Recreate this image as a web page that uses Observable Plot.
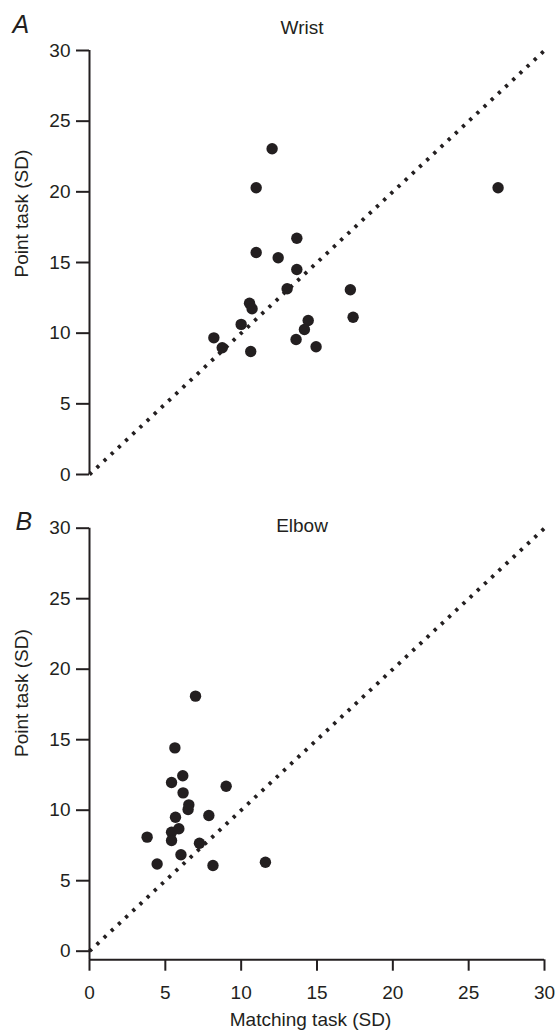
<!DOCTYPE html>
<html>
<head>
<meta charset="utf-8">
<script src="https://cdn.jsdelivr.net/npm/d3@7"></script>
<script src="https://cdn.jsdelivr.net/npm/@observablehq/plot@0.6"></script>
<style>
  html, body { margin: 0; padding: 0; background: #fff; }
  #chart { width: 555px; height: 1030px; overflow: hidden; }
  #chart svg { display: block; overflow: visible; }
</style>
</head>
<body>
<div id="chart"></div>
<script>
// ---- data ----
const wristMatching = [12.04, 10.99, 26.94, 13.67, 10.99, 12.44, 13.67, 13.03, 17.2, 10.55, 10.72, 17.38, 10.0, 14.42, 14.17, 8.2, 8.75, 13.62, 14.94, 10.63];
const wristPoint    = [23.05, 20.29, 20.29, 16.72, 15.71, 15.34, 14.51, 13.14, 13.07, 12.12, 11.73, 11.13, 10.62, 10.9, 10.26, 9.67, 8.97, 9.55, 9.04, 8.7];

const elbowMatching = [6.99, 5.63, 6.15, 5.41, 6.17, 9.01, 6.55, 6.5, 7.87, 5.67, 5.41, 5.89, 3.8, 5.41, 7.25, 4.46, 6.03, 8.14, 11.6];
const elbowPoint    = [18.09, 14.42, 12.44, 11.96, 11.23, 11.7, 10.38, 10.05, 9.62, 9.5, 8.44, 8.68, 8.09, 7.85, 7.66, 6.18, 6.84, 6.08, 6.31];

const xTicks = [0, 5, 10, 15, 20, 25, 30];
const yTicks = [0, 5, 10, 15, 20, 25, 30];
const identity = [0, 30];          // line of equality (x = y)
const panelTitles = ["Wrist", "Elbow"];
const panelLetters = ["A", "B"];
const xLabel = "Matching task (SD)";
const yLabel = "Point task (SD)";

// ---- styling ----
const ink = "#231f20";
const font = "'Liberation Sans', Arial, Helvetica, sans-serif";
const fs = 19;

const wrist = wristMatching.map((m, i) => ({matching: m, point: wristPoint[i]}));
const elbow = elbowMatching.map((m, i) => ({matching: m, point: elbowPoint[i]}));

const yDomainA = [0, 30];
const yDomainB = [-0.61, 30];

function panel({data, title, letter, height, marginTop, marginBottom, yDomain, showX, titleDy, letterDx, letterDy, labelDy}) {
  const marks = [
    Plot.ruleX([0], {stroke: ink, strokeWidth: 2}),
    Plot.axisY({ticks: yTicks, tickSize: 13, tickPadding: 6, stroke: ink, strokeWidth: 2, label: null, fontSize: fs}),
    Plot.line(identity, {x: d => d, y: d => d, stroke: ink, strokeWidth: 3.8, strokeDasharray: "3.2 6.6", strokeLinecap: "butt"}),
    Plot.dot(data, {x: "matching", y: "point", r: 5.7, fill: ink, stroke: "none"}),
    Plot.text([title], {frameAnchor: "top", dx: -15, dy: titleDy, lineAnchor: "bottom", fontSize: fs, fill: ink}),
    Plot.text([letter], {frameAnchor: "top-left", textAnchor: "start", lineAnchor: "bottom", dx: letterDx, dy: letterDy, fontSize: 25, fontStyle: "italic", fill: ink}),
    Plot.text([yLabel], {frameAnchor: "left", rotate: -90, dx: -68, dy: labelDy, fontSize: fs, fill: ink})
  ];
  if (showX) {
    marks.push(
      Plot.ruleY([yDomain[0]], {stroke: ink, strokeWidth: 2}),
      Plot.axisX({ticks: xTicks, tickSize: 11.4, tickPadding: 14, stroke: ink, strokeWidth: 2, label: null, fontSize: fs}),
      Plot.text([xLabel], {frameAnchor: "bottom", dx: -6.5, dy: 65.7, lineAnchor: "bottom", fontSize: fs, fill: ink})
    );
  }
  return Plot.plot({
    width: 555,
    height,
    marginLeft: 89,
    marginRight: 11,
    marginTop,
    marginBottom,
    style: {fontFamily: font, fontSize: fs + "px", color: ink, background: "white", overflow: "visible"},
    x: {domain: [0, 30], axis: null},
    y: {domain: yDomain, axis: null},
    marks
  });
}

const chart = document.getElementById("chart");
chart.append(panel({
  data: wrist, title: panelTitles[0], letter: panelLetters[0],
  height: 490, marginTop: 50, marginBottom: 16, yDomain: yDomainA, showX: false,
  titleDy: -16.7, letterDx: -77, letterDy: -18, labelDy: 15
}));
chart.append(panel({
  data: elbow, title: panelTitles[1], letter: panelLetters[1],
  height: 540, marginTop: 37.7, marginBottom: 70.7, yDomain: yDomainB, showX: true,
  titleDy: 3.3, letterDx: -74, letterDy: 1.6, labelDy: 13
}));
</script>
</body>
</html>
